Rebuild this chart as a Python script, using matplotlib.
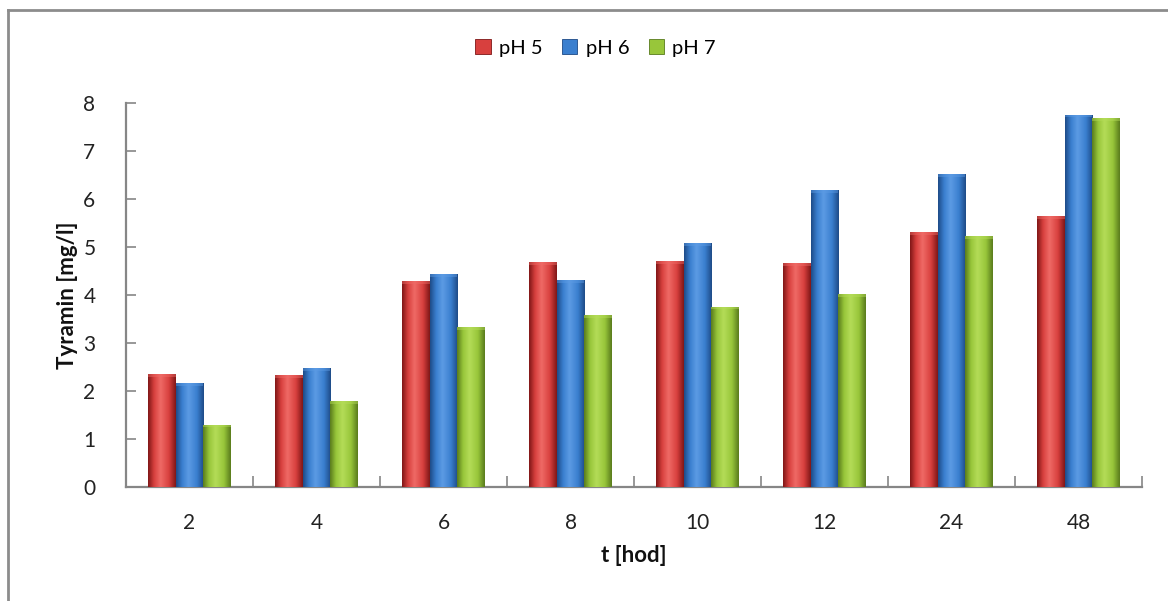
import numpy as np
import matplotlib
matplotlib.use("Agg")
import matplotlib.pyplot as plt
from matplotlib.colors import LinearSegmentedColormap
from matplotlib.patches import Patch, Rectangle
from matplotlib.lines import Line2D

# Data: tyramine concentration over time at three pH levels
times = ["2", "4", "6", "8", "10", "12", "24", "48"]
series_names = ["pH 5", "pH 6", "pH 7"]
ph5 = [2.36, 2.33, 4.29, 4.69, 4.70, 4.66, 5.31, 5.64]
ph6 = [2.16, 2.48, 4.44, 4.31, 5.08, 6.19, 6.52, 7.76]
ph7 = [1.30, 1.79, 3.34, 3.59, 3.76, 4.02, 5.22, 7.69]
values = [ph5, ph6, ph7]

base_colors = ["#d8403e", "#3a7fcf", "#98c63a"]
dark_colors = ["#7e1616", "#1d4a86", "#587a1c"]
light_colors = ["#ef6a66", "#5c9be4", "#b4dc58"]

plt.rcParams["font.family"] = ["Lato", "DejaVu Sans"]

fig = plt.figure(figsize=(11.68, 6.01), dpi=100)
ax = fig.add_axes([126 / 1168, 1 - 487 / 601, (1142 - 126) / 1168, (487 - 103) / 601])

x = np.arange(len(times))
width = 0.22
offsets = [-0.22, 0.0, 0.22]

grad = np.linspace(0, 1, 256).reshape(1, -1)

for vals, off, base, dark, light in zip(values, offsets, base_colors, dark_colors, light_colors):
    cmap = LinearSegmentedColormap.from_list(
        "cyl", [(0.0, dark), (0.22, base), (0.45, light), (0.75, base), (1.0, dark)]
    )
    bars = ax.bar(x + off, vals, width=width, color=base, edgecolor="none", zorder=2)
    for b in bars:
        x0, y0 = b.get_xy()
        w, h = b.get_width(), b.get_height()
        im = ax.imshow(grad, extent=[x0, x0 + w, y0, y0 + h], cmap=cmap,
                       aspect="auto", interpolation="bicubic", zorder=3)
        im.set_clip_path(b)
        # lighter rim at the top of each cylinder
        cap = Rectangle((x0, y0 + h - 0.06), w, 0.06, facecolor=light,
                        edgecolor="none", alpha=0.45, zorder=4)
        ax.add_patch(cap)

ax.set_xlim(-0.5, len(times) - 0.5)
ax.set_ylim(0, 8)

# x axis: ticks between categories, labels at the centers
ax.set_xticks(np.arange(-0.5, len(times), 1.0))
ax.set_xticklabels([])
ax.set_xticks(x, minor=True)
ax.set_xticklabels(times, minor=True)
ax.tick_params(axis="x", which="major", direction="in", length=8, width=1.2, color="#868686")
ax.tick_params(axis="x", which="minor", length=0, pad=19, labelsize=15, labelcolor="#222222")

ax.set_yticks(range(0, 9))
ax.tick_params(axis="y", direction="in", length=7, width=1.2, color="#868686",
               pad=22, labelsize=15, labelcolor="#222222")

for side in ["top", "right"]:
    ax.spines[side].set_visible(False)
for side in ["left", "bottom"]:
    ax.spines[side].set_color("#868686")
    ax.spines[side].set_linewidth(1.6)

ax.set_xlabel("t [hod]", fontsize=16, fontweight="bold", color="#111111", va="center")
ax.xaxis.set_label_coords(0.5, -(555 - 487) / 384)
ax.set_ylabel("Tyramin [mg/l]", fontsize=16, fontweight="bold", color="#111111", va="center")
ax.yaxis.set_label_coords(-(126 - 68) / 1016, 0.5)

# legend
handles = [Patch(facecolor=c, edgecolor=d, linewidth=0.6) for c, d in zip(base_colors, dark_colors)]
fig.legend(handles, series_names, loc="center", bbox_to_anchor=(0.51, 1 - 48 / 601),
           ncol=3, frameon=False, fontsize=14.5, handlelength=0.75, handleheight=0.75,
           handletextpad=0.4, columnspacing=1.0)

# chart frame
fig.add_artist(Line2D([8 / 1168, 8 / 1168], [0, 1 - 9.5 / 601], transform=fig.transFigure,
                      color="#8c8c8c", linewidth=2))
fig.add_artist(Line2D([8 / 1168, 1], [1 - 9.5 / 601, 1 - 9.5 / 601], transform=fig.transFigure,
                      color="#8c8c8c", linewidth=2))

fig.savefig("out.png", dpi=100)
